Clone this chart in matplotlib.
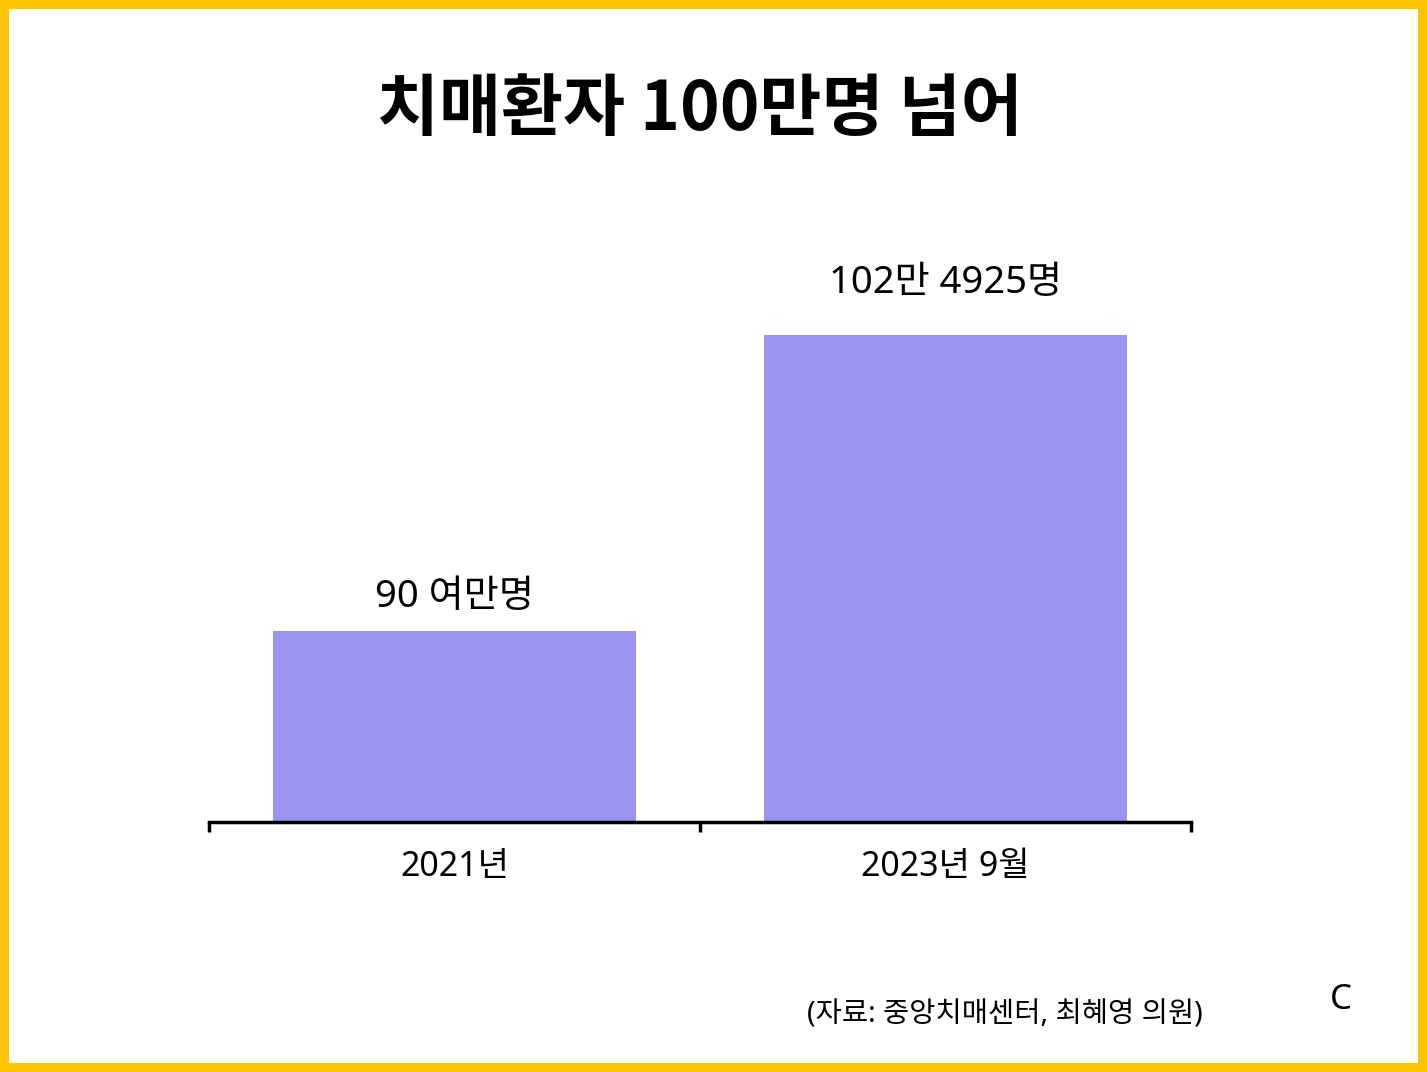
import matplotlib
matplotlib.use('Agg')
import matplotlib.pyplot as plt
from matplotlib.patches import Rectangle

plt.rcParams['font.family'] = ['Noto Sans', 'Noto Sans CJK KR', 'DejaVu Sans']

# 데이터
categories = ['2021년', '2023년 9월']
values = [90, 102.4925]
value_labels = ['90 여만명', '102만 4925명']
label_offsets = [15, 33]  # px above bar

bar_color = '#9B94F0'
border_color = '#FFC400'

fig = plt.figure(figsize=(14.27, 10.72), dpi=100)
fig.patch.set_facecolor('white')

# yellow frame
fig.patches.append(Rectangle((0, 0), 1, 1, transform=fig.transFigure,
                             fill=False, edgecolor=border_color,
                             linewidth=13, zorder=10))

ax = fig.add_axes([209/1427, 1 - 822/1072, 982/1427, (822 - 180)/1072])
x = list(range(len(categories)))
bars = ax.bar(x, values, width=0.741, color=bar_color, zorder=2)

ax.set_xlim(-0.5, 1.5)
ax.set_ylim(81.95, 109.05)

for s in ['top', 'right', 'left']:
    ax.spines[s].set_visible(False)
ax.spines['bottom'].set_linewidth(2.5)
ax.spines['bottom'].set_color('black')
ax.set_yticks([])

# category labels without marks, boundary ticks as minor
ax.set_xticks(x)
ax.set_xticklabels(categories, fontsize=24.5)
ax.tick_params(axis='x', which='major', length=0, pad=20)
ax.set_xticks([-0.5, 0.5, 1.5], minor=True)
ax.tick_params(axis='x', which='minor', length=7, width=2.5, direction='out')

for xi, v, lab, off in zip(x, values, value_labels, label_offsets):
    ax.annotate(lab, (xi, v), xytext=(0, off * 0.72), textcoords='offset points',
                ha='center', va='bottom', fontsize=27.5)

fig.text(700/1427, 1 - 110/1072, '치매환자 100만명 넘어', ha='center', va='center',
         fontsize=48.5, fontweight='bold', family='Noto Sans CJK KR')

fig.text(1203/1427, 1 - 1015/1072, '(자료: 중앙치매센터, 최혜영 의원)',
         ha='right', va='center', fontsize=20.5)
fig.text(1341/1427, 1 - 1000/1072, 'C', ha='center', va='center', fontsize=25)

fig.savefig('out.png', dpi=100, facecolor='white')
